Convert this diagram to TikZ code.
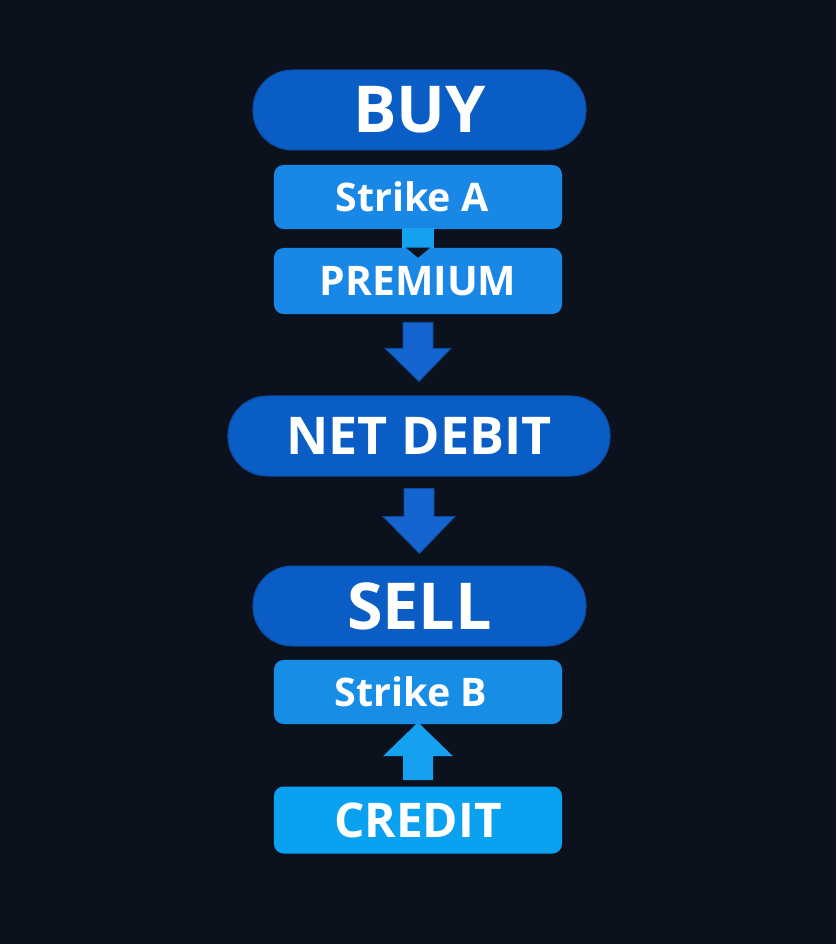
\documentclass[tikz,border=0pt]{standalone}
\usepackage{fontspec}
\setmainfont{Open Sans}
\usetikzlibrary{positioning,calc}
\definecolor{bgnavy}{HTML}{0C121D}
\definecolor{pillblue}{HTML}{0A5DC4}
\definecolor{pilledge}{HTML}{0B4A9E}
\definecolor{boxblue}{HTML}{1887E5}
\definecolor{creditblue}{HTML}{0AA2F0}
\definecolor{arrowblue}{HTML}{1465D0}
\definecolor{linkblue}{HTML}{16A0F0}

\begin{document}
\begin{tikzpicture}[x=0.025cm, y=-0.025cm,
	pill/.style={draw=pilledge, line width=0.7pt, fill=pillblue, rounded corners=0.98cm, minimum height=2cm, inner sep=0pt, text=white, font=\bfseries\fontsize{46}{50}\selectfont},
	tag/.style={fill=boxblue, rounded corners=0.24cm, minimum width=7.2cm, minimum height=1.6cm, inner sep=0pt, text=white, font=\bfseries\fontsize{28}{34}\selectfont},
	blockdown/.style={fill=arrowblue, draw=pilledge, line width=0.6pt},
	blockup/.style={fill=linkblue}]
	% canvas in pixels, y runs downwards
	\fill[bgnavy] (0,0) rectangle (836,944);
	\useasboundingbox (0,0) rectangle (836,944);
	\node[pill, minimum width=8.325cm] (buy) at (419.5,110) {BUY};
	\node[tag] (strikea) at (418,197) {\hspace*{-0.3cm}Strike A};
	\node[tag, minimum height=1.65cm, font=\bfseries\fontsize{29}{34}\selectfont] (premium) at (418,281) {PREMIUM};
	\node[pill, minimum width=9.55cm, font=\bfseries\fontsize{37}{44}\selectfont] (netdebit) at (419,436) {NET DEBIT};
	\node[pill, minimum width=8.325cm] (sell) at (419.5,606) {SELL};
	\node[tag, fill=boxblue!95!cyan] (strikeb) at (418,692) {\hspace*{-0.35cm}Strike B};
	\node[tag, fill=creditblue, minimum height=1.675cm, font=\bfseries\fontsize{34}{40}\selectfont] (credit) at (418,820) {CREDIT};
	% link with notch
	\fill[linkblue] ($(strikea.south)+(-16,-1)$) rectangle ($(premium.north)+(16,0)$);
	\fill[bgnavy] ($(premium.north)+(-12,0)$) -- ($(premium.north)+(12,0)$) -- ($(premium.north)+(0,10)$) -- cycle;
	% block arrows
	\draw[blockdown] ($(premium.south)+(-15,8)$) -- ++(30,0) -- ++(0,26) -- ++(18,0) -- ($(netdebit.north)+(0,-14)$) -- ($(premium.south)+(-33,34)$) -- ++(18,0) -- cycle;
	\draw[blockdown] ($(netdebit.south)+(-15,12)$) -- ++(30,0) -- ++(0,28) -- ++(21,0) -- ($(sell.north)+(0,-12)$) -- ($(netdebit.south)+(-36,40)$) -- ++(21,0) -- cycle;
	\fill[blockup] ($(credit.north)+(-15,-6)$) -- ++(30,0) -- ++(0,-24) -- ++(20,0) -- ($(strikeb.south)+(0,-2)$) -- ($(credit.north)+(-35,-30)$) -- ++(20,0) -- cycle;
\end{tikzpicture}
\end{document}
